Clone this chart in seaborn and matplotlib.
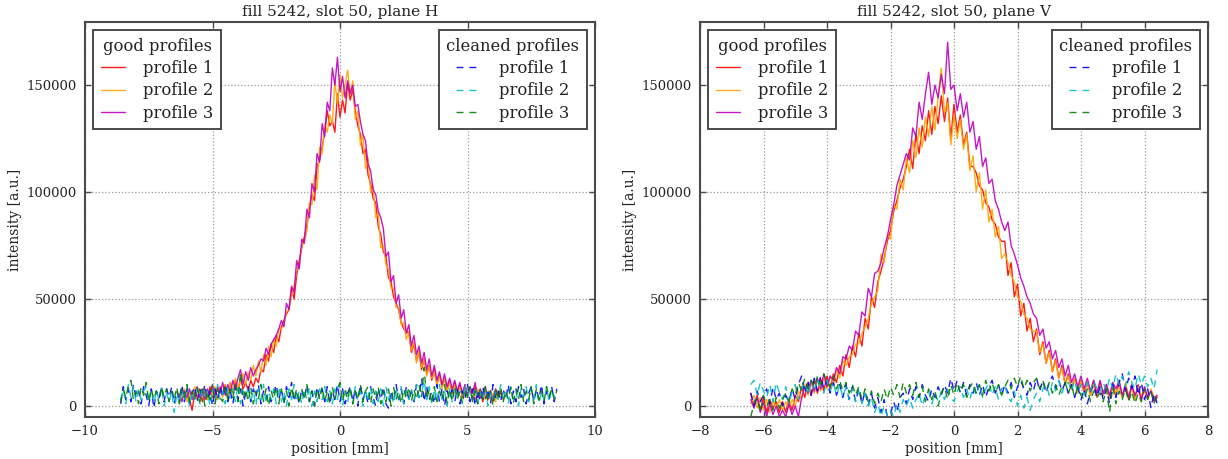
import numpy as np
import matplotlib
matplotlib.use("Agg")
import matplotlib.pyplot as plt
from matplotlib.ticker import FixedLocator
import seaborn as sns

# ---------------------------------------------------------------------------
# Beam profiles, fill 5242, slot 50.  Intensities are listed in units of
# 1000 a.u.; positions are sampled every 0.1 mm.
# ---------------------------------------------------------------------------

# plane H, good profiles: -6.3 ... 6.4 mm
h_good_x = np.arange(-63, 65) / 10
h_good_1 = [2, 7, 4, 8, 3, -2, 6, 3, 8, 2,
            7, 3, 9, 4, 8, 3, 9, 5, 10, 4,
            11, 6, 12, 7, 13, 8, 11, 7, 12, 9,
            13, 11, 17, 16, 24, 21, 29, 25, 33, 30,
            37, 40, 43, 45, 55, 50, 61, 68, 74, 79,
            84, 93, 99, 96, 112, 115, 121, 128, 138, 131,
            133, 128, 146, 135, 143, 137, 151, 143, 148, 138,
            131, 127, 118, 120, 108, 104, 97, 95, 84, 80,
            72, 70, 60, 58, 51, 48, 45, 39, 36, 35,
            34, 25, 29, 21, 25, 17, 22, 15, 19, 12,
            17, 10, 15, 9, 13, 7, 12, 6, 11, 6,
            10, 4, 9, 5, 8, 3, 9, 4, 7, 2,
            8, 3, 7, 2, 6, 4, 7, 3]
h_good_2 = [6, 3, 8, 2, 6, 4, 9, 3, 7, 4,
            8, 3, 7, 5, 9, 3, 8, 4, 10, 5,
            11, 6, 13, 8, 12, 15, 10, 16, 12, 19,
            14, 21, 16, 24, 19, 28, 23, 31, 28, 36,
            36, 38, 44, 45, 52, 56, 63, 65, 75, 77,
            82, 95, 94, 108, 101, 121, 118, 132, 128, 136,
            132, 152, 141, 155, 144, 150, 157, 146, 152, 134,
            138, 122, 127, 111, 116, 100, 103, 88, 90, 74,
            75, 66, 64, 55, 55, 46, 46, 38, 39, 31,
            35, 26, 30, 20, 26, 18, 22, 14, 19, 13,
            16, 10, 14, 8, 13, 7, 11, 6, 10, 5,
            9, 5, 10, 4, 8, 6, 3, 8, 4, 7,
            3, 7, 4, 6, 2, 7, 4, 6]
h_good_3 = [5, 2, 7, 4, 8, 3, 6, 9, 4, 7,
            3, 8, 5, 10, 4, 9, 6, 11, 5, 10,
            6, 12, 8, 13, 17, 10, 16, 12, 18, 14,
            17, 19, 22, 21, 27, 24, 29, 31, 33, 36,
            40, 37, 48, 45, 56, 53, 68, 64, 78, 76,
            92, 88, 104, 100, 118, 114, 132, 126, 142, 138,
            158, 150, 163, 147, 154, 144, 152, 146, 150, 140,
            141, 133, 127, 124, 113, 110, 101, 99, 91, 88,
            83, 70, 72, 58, 61, 48, 52, 41, 45, 34,
            38, 28, 33, 24, 28, 20, 25, 17, 22, 14,
            19, 12, 16, 10, 15, 9, 13, 8, 12, 7,
            11, 6, 10, 5, 9, 6, 11, 4, 8, 5,
            9, 4, 7, 3, 8, 5, 6, 4]

# plane H, cleaned profiles: -8.6 ... 8.5 mm
h_clean_x = np.arange(-86, 86) / 10
h_clean_1 = [1, 9, 3, 8, 2, 10, 4, 7, 1, 9,
             5, 0, 8, -1, 7, 3, 9, 2, 8, 4,
             9, 1, 7, 3, 10, 2, 8, 1, 6, 9,
             2, 8, 4, 10, 3, 7, 0, 8, 3, 9,
             4, 10, 2, 7, 1, 9, 3, 8, 0, 6,
             9, 2, 8, 4, 10, 1, 7, 3, 9, 2,
             6, 10, 3, 8, 1, 9, 4, 11, 2, 7,
             1, 8, 3, 10, 2, 7, 0, 9, 4, 8,
             2, 9, 1, 7, 3, 10, 2, 8, 1, 6,
             9, 2, 8, 0, 10, 3, 7, 1, 9, 4,
             0, 8, 3, 9, 1, -1, 7, 2, 10, 3,
             8, 1, 9, 3, 7, 2, 10, 4, 13, 2,
             9, 3, 7, 1, 10, 2, 8, 0, 7, 3,
             9, 2, 8, 1, 7, 3, 10, 2, 8, 0,
             7, 2, 9, 3, 8, 1, 10, 4, 7, 2,
             8, 3, 10, 1, 7, 2, 9, 4, 8, 1,
             6, 9, 2, 8, 3, 10, 1, 7, 3, 9,
             2, 8]
h_clean_2 = [3, 8, 1, 10, 4, 9, 2, 8, 3, 7,
             9, 2, 8, 1, 7, 3, 9, 0, 6, 2,
             7, -3, 6, 1, 8, 2, 9, 0, 7, 3,
             8, 1, 9, 3, 7, 0, 8, 2, 10, 3,
             7, 1, 9, 3, 8, 2, 10, 1, 7, 4,
             9, 2, 7, 0, 8, 3, 10, 1, 7, 3,
             8, 1, 9, 2, 7, 0, 8, 3, 10, 2,
             7, 1, 8, 3, 9, 0, 7, 2, 8, 3,
             9, 2, 7, 1, 8, 3, 10, 0, 7, 2,
             8, 1, 9, 3, 7, 0, 8, 2, 9, 1,
             7, 2, 8, 0, 9, 3, 7, 1, 8, 2,
             9, 1, 7, 3, 8, 2, 10, 4, 6, 12,
             3, 9, 1, 8, 2, 10, 3, 7, 0, 8,
             2, 9, 3, 7, 1, 10, 4, 8, 2, 9,
             1, 7, 3, 9, 0, 8, 2, 7, 3, 10,
             2, 8, 1, 9, 3, 7, 0, 8, 4, 9,
             2, 8, 3, 10, 1, 7, 3, 9, 2, 8,
             4, 7]
h_clean_3 = [2, 8, 4, 9, 12, 3, 7, 1, 9, 5,
             11, 2, 8, 3, 7, 1, 9, 4, 8, 2,
             7, 3, 9, 1, 8, 4, 10, 2, 7, 3,
             9, 2, 8, 0, 7, 3, 10, 1, 8, 4,
             2, 9, 3, 8, 4, 10, 2, 16, 3, 8,
             2, 9, 1, 7, 3, 10, 2, 8, 0, 7,
             3, 9, 1, 8, 2, 7, 0, 9, 3, 8,
             1, 8, 3, 10, 2, 7, 0, 8, 3, 9,
             2, 7, 1, 9, 3, 8, 11, 2, 8, 3,
             9, 1, 7, 3, 10, 2, 7, 9, 1, 8,
             3, 9, 1, 7, 2, 8, 0, 9, 3, 7,
             1, 8, 3, 9, 2, 8, 3, 10, 4, 18,
             3, 8, 1, 9, 2, 7, 3, 10, 1, 8,
             2, 9, 3, 7, 1, 8, 4, 9, 2, 7,
             1, 8, 3, 9, 2, 7, 0, 8, 3, 9,
             2, 7, 3, 9, 1, 8, 3, 10, 2, 7,
             3, 9, 1, 8, 3, 7, 2, 9, 4, 8,
             3, 7]

# plane V, good and cleaned profiles: -6.4 ... 6.4 mm
v_x = np.arange(-64, 65) / 10
v_good_1 = [6, 0, 5, -2, 4, -3, 3, -1, 2, -3,
            2, -3, 3, -2, 5, 2, 9, 4, 11, 5,
            12, 6, 13, 7, 14, 8, 15, 11, 19, 14,
            24, 18, 28, 23, 34, 28, 41, 36, 51, 46,
            58, 63, 69, 77, 82, 91, 96, 102, 106, 112,
            120, 111, 127, 118, 131, 124, 138, 127, 140, 132,
            145, 133, 144, 125, 141, 128, 136, 122, 128, 112,
            112, 109, 103, 101, 95, 93, 87, 85, 79, 77,
            77, 61, 67, 51, 57, 42, 48, 35, 41, 30,
            36, 24, 30, 20, 26, 16, 22, 13, 19, 10,
            15, 8, 13, 7, 12, 6, 11, 5, 12, 4,
            11, 5, 10, 4, 9, 5, 11, 4, 10, 3,
            9, 4, 10, 3, 8, 4, 7, 2, 4]
v_good_2 = [1, 5, -1, 4, -2, 3, -3, 2, -1, 3,
            -2, 2, -1, 3, 0, 7, 3, 10, 5, 11,
            6, 12, 7, 13, 8, 14, 10, 17, 13, 21,
            19, 23, 24, 29, 29, 34, 37, 41, 48, 51,
            54, 71, 67, 80, 78, 94, 92, 106, 101, 116,
            109, 124, 116, 130, 121, 135, 126, 140, 129, 145,
            158, 137, 142, 122, 136, 125, 134, 120, 127, 110,
            117, 100, 109, 92, 101, 86, 92, 79, 84, 69,
            71, 67, 61, 58, 51, 49, 43, 41, 36, 35,
            35, 25, 29, 20, 25, 16, 21, 13, 18, 10,
            14, 8, 13, 6, 12, 7, 11, 5, 10, 4,
            10, 5, 9, 3, 10, 6, 9, 4, 11, 5,
            8, 3, 9, 5, 7, 3, 8, 4, 5]
v_good_3 = [3, -1, 4, -3, 2, -5, 1, -4, 0, -5,
            -2, -5, 1, -4, 0, -5, 4, 9, 6, 12,
            7, 13, 8, 15, 9, 14, 12, 18, 15, 23,
            22, 28, 26, 35, 33, 44, 42, 55, 51, 62,
            63, 67, 74, 79, 87, 94, 103, 108, 113, 118,
            115, 130, 126, 142, 134, 146, 156, 141, 150, 144,
            155, 146, 170, 148, 150, 138, 146, 135, 142, 128,
            133, 120, 126, 112, 116, 104, 106, 96, 92, 86,
            82, 86, 75, 71, 66, 60, 56, 51, 48, 43,
            41, 33, 36, 27, 30, 22, 26, 18, 22, 14,
            19, 11, 15, 9, 14, 8, 13, 7, 12, 6,
            12, 6, 10, 5, 11, 8, 12, 5, 9, 4,
            10, 5, 8, 3, 9, 4, 7, 3, 5]
v_clean_1 = [6, 0, 7, 2, 5, 8, 1, 9, 3, 6,
             0, 5, 2, 8, 3, 10, 14, 6, 12, 5,
             13, 7, 14, 8, 12, 6, 11, 5, 10, 4,
             10, 3, 9, 2, 8, 1, 7, 0, 6, -1,
             4, -3, 3, -5, -4, 2, -3, 4, 6, 1,
             8, 3, 9, 4, 10, 5, 2, 8, 4, 9,
             5, 10, 6, 13, 7, 12, 6, 11, 5, 10,
             6, 11, 5, 10, 4, 9, 12, 6, 10, 5,
             10, 6, 11, 4, 9, 12, 8, 5, 11, 7,
             13, 7, 12, 6, 11, 14, 8, 12, 7, 11,
             6, 10, 4, 9, 3, 8, 1, 7, 10, 4,
             9, 3, 8, 1, 10, 4, 11, 15, 7, 13,
             8, 14, 5, 11, 3, 8, -1, 6, 1]
v_clean_2 = [10, 12, 5, 11, 7, 4, 10, 2, 11, 6,
             3, 9, 1, 7, 10, 3, 8, 11, 5, 12,
             7, 13, 8, 6, 12, 7, 11, 5, 10, 4,
             9, 3, 8, 2, 7, 1, 6, 0, 4, -3,
             1, -5, 0, -5, -2, -5, 1, -3, 3, 0,
             4, -1, 3, 6, 0, 5, 7, 1, 6, 2,
             7, 3, 8, 4, 2, 7, 9, 4, 8, 3,
             9, 5, 10, 4, 8, 11, 5, 9, 3, 8,
             10, 4, 2, 7, 0, 5, -1, 4, -2, 3,
             6, 2, 8, 10, 5, 11, 7, 12, 6, 10,
             11, 7, 12, 6, 10, 5, 11, 7, 12, 8,
             6, 11, 7, 13, 8, 15, 10, 14, 9, 16,
             11, 8, 15, 10, 14, 9, 13, 8, 17]
v_clean_3 = [-5, 1, 4, -3, 5, 0, 3, -2, 4, -1,
             3, 6, 2, 8, 5, 11, 7, 13, 8, 12,
             9, 14, 10, 15, 11, 9, 14, 8, 12, 7,
             11, 6, 10, 5, 9, 3, 8, 2, 7, 1,
             6, 2, 8, 3, 9, 5, 10, 4, 11, 6,
             10, 5, 11, 4, 9, 2, 8, 3, 7, 0,
             6, 9, 3, 10, 5, 11, 6, 10, 4, 9,
             11, 6, 10, 5, 12, 7, 11, 6, 10, 5,
             9, 12, 8, 13, 9, 14, 8, 12, 7, 11,
             13, 8, 12, 7, 11, 6, 10, 5, 9, 11,
             6, 10, 4, 9, 5, 3, 8, 2, 7, 4,
             6, 2, 8, -3, 9, 1, 7, 3, 8, 2,
             7, 1, 6, 2, 8, 3, 7, 1, 6]

series_labels = ["profile 1", "profile 2", "profile 3"]
good_colors = ["#ff0000", "#ffa500", "#bf00bf"]
clean_colors = ["#0000ff", "#00bfbf", "#008000"]
SCALE = 1000.0

# ---------------------------------------------------------------------------
# style
# ---------------------------------------------------------------------------
sns.set_theme(style="whitegrid", rc={
    "axes.edgecolor": "#4a4a4a",
    "axes.linewidth": 1.5,
    "grid.color": "#9a9a9a",
    "grid.linestyle": ":",
    "grid.linewidth": 0.9,
    "axes.labelcolor": "#222222",
    "text.color": "#222222",
    "xtick.labelcolor": "#222222",
    "ytick.labelcolor": "#222222",
})
plt.rcParams["font.family"] = ["DejaVu Serif"]
plt.rcParams["axes.unicode_minus"] = True

fig = plt.figure(figsize=(12.28, 4.59), dpi=100)
ax_h = fig.add_axes([85 / 1228, 42 / 459, 510 / 1228, 395 / 459])
ax_v = fig.add_axes([700 / 1228, 42 / 459, 508 / 1228, 395 / 459])

DASH = (0, (5, 4.3))


def draw_panel(ax, gx, goods, cx, cleans, title, xlim, xticks):
    good_handles = []
    for vals, col, lab in zip(goods, good_colors, series_labels):
        sns.lineplot(x=gx, y=np.asarray(vals) * SCALE, ax=ax, color=col,
                     lw=1.0, alpha=0.9, estimator=None, errorbar=None,
                     legend=False)
        ln = ax.lines[-1]
        ln.set_label(lab)
        good_handles.append(ln)
    clean_handles = []
    for vals, col, lab in zip(cleans, clean_colors, series_labels):
        sns.lineplot(x=cx, y=np.asarray(vals) * SCALE, ax=ax, color=col,
                     lw=1.0, alpha=0.9, linestyle=DASH, estimator=None,
                     errorbar=None, legend=False)
        ln = ax.lines[-1]
        ln.set_label(lab)
        clean_handles.append(ln)

    ax.set_xlim(*xlim)
    ax.set_ylim(-5150, 179500)
    ax.xaxis.set_major_locator(FixedLocator(xticks))
    ax.yaxis.set_major_locator(FixedLocator([0, 50000, 100000, 150000]))
    ax.grid(True, which="major")
    ax.tick_params(direction="in", length=4, width=1.0, color="#4a4a4a",
                   top=True, right=True, bottom=True, left=True,
                   labelsize=9.5, pad=6)
    ax.set_xlabel("position [mm]", fontsize=10, labelpad=3)
    ax.set_ylabel("intensity [a.u.]", fontsize=10, labelpad=3)
    ax.set_title(title, fontsize=11, pad=4)

    leg_kw = dict(fontsize=11.8, title_fontsize=11.8, fancybox=False,
                  framealpha=1.0, edgecolor="#4a4a4a", handlelength=1.5,
                  handletextpad=1.1, labelspacing=0.33, borderpad=0.45,
                  borderaxespad=0.5)
    leg1 = ax.legend(handles=good_handles, labels=series_labels,
                     title="good profiles", loc="upper left", **leg_kw)
    leg1.get_frame().set_linewidth(1.4)
    ax.add_artist(leg1)
    leg2 = ax.legend(handles=clean_handles, labels=series_labels,
                     title="cleaned profiles", loc="upper right", **leg_kw)
    leg2.get_frame().set_linewidth(1.4)


draw_panel(ax_h, h_good_x, [h_good_1, h_good_2, h_good_3],
           h_clean_x, [h_clean_1, h_clean_2, h_clean_3],
           "fill 5242, slot 50, plane H", (-10, 10), [-10, -5, 0, 5, 10])
draw_panel(ax_v, v_x, [v_good_1, v_good_2, v_good_3],
           v_x, [v_clean_1, v_clean_2, v_clean_3],
           "fill 5242, slot 50, plane V", (-8, 8),
           [-8, -6, -4, -2, 0, 2, 4, 6, 8])

fig.savefig("out.png", dpi=100)
